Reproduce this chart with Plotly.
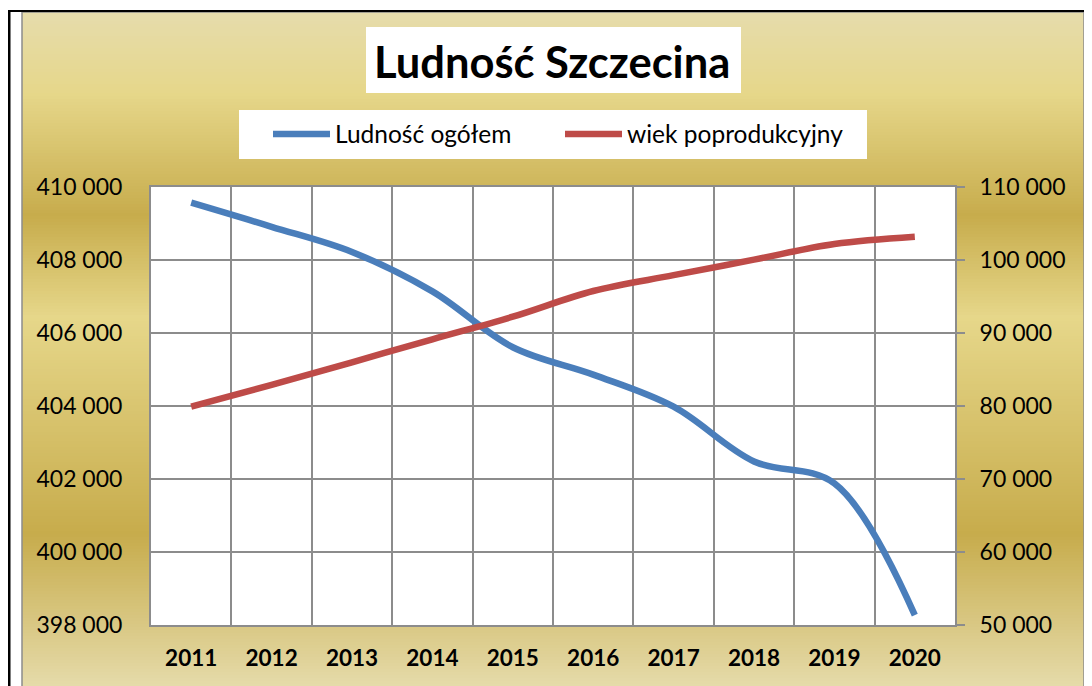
import plotly.graph_objects as go

# ---------------- data ----------------
years = ["2011", "2012", "2013", "2014", "2015", "2016", "2017", "2018", "2019", "2020"]
total_population = [409570, 408910, 408220, 407140, 405610, 404860, 403980, 402480, 401880, 398270]
post_working_age = [79900, 82880, 85990, 89140, 92230, 95750, 97920, 100050, 102190, 103190]
left_ticks = [398000, 400000, 402000, 404000, 406000, 408000, 410000]
right_ticks = [50000, 60000, 70000, 80000, 90000, 100000, 110000]
series_names = ["Ludność ogółem", "wiek poprodukcyjny"]
title_text = "Ludność Szczecina"

# ---------------- geometry helpers ----------------
OFF = 8  # the page body margin shifts the figure by 8 px
W, H = 1092 - OFF, 686 - OFF
PL, PR, PT, PB = 151, 955, 187, 625  # plot area in page pixels


def px(x):
    return (x - PL) / (PR - PL)


def py(y):
    return (PB - y) / (PB - PT)


def hex2rgb(h):
    h = h.lstrip("#")
    return tuple(int(h[i:i + 2], 16) for i in (0, 2, 4))


stops = [(0.0, "#E6DCAC"), (0.12, "#E6D78A"), (0.30, "#C7AC4C"),
         (0.45, "#E6D78A"), (0.77, "#C7AC4C"), (1.0, "#E6DCAC")]


def grad_color(t):
    for (t0, c0), (t1, c1) in zip(stops[:-1], stops[1:]):
        if t0 <= t <= t1:
            f = (t - t0) / (t1 - t0) if t1 > t0 else 0
            a, b = hex2rgb(c0), hex2rgb(c1)
            return "rgb(%d,%d,%d)" % tuple(round(a[i] + (b[i] - a[i]) * f) for i in range(3))
    return stops[-1][1]


shapes = []
# gold gradient panel
G_X0, G_X1, G_Y0, G_Y1 = 22, 1084, 12, 690
step = 3
y = G_Y0
while y < G_Y1:
    y1 = min(y + step, G_Y1)
    t = ((y + y1) / 2 - G_Y0) / (G_Y1 - G_Y0)
    shapes.append(dict(type="rect", xref="paper", yref="paper", layer="below",
                       x0=px(G_X0), x1=px(G_X1), y0=py(y), y1=py(y1 + 0.6),
                       fillcolor=grad_color(t), line=dict(width=0)))
    y = y1
# panel border
shapes.append(dict(type="rect", xref="paper", yref="paper", layer="below",
                   x0=px(G_X0), x1=px(G_X1), y0=py(G_Y0), y1=py(G_Y1 + 5),
                   line=dict(color="#8c8c8c", width=1.5)))
# black frame lines (outer sheet border)
shapes.append(dict(type="line", xref="paper", yref="paper", layer="below",
                   x0=px(9), x1=px(9), y0=py(10), y1=py(700),
                   line=dict(color="black", width=3)))
shapes.append(dict(type="line", xref="paper", yref="paper", layer="below",
                   x0=px(8), x1=px(1100), y0=py(11), y1=py(11),
                   line=dict(color="black", width=2)))
# white plot area
shapes.append(dict(type="rect", xref="paper", yref="paper", layer="below",
                   x0=0, x1=1, y0=0, y1=1, fillcolor="white", line=dict(width=0)))
# title box
shapes.append(dict(type="rect", xref="paper", yref="paper", layer="below",
                   x0=px(366), x1=px(741), y0=py(93), y1=py(27),
                   fillcolor="white", line=dict(width=0)))
# legend box
shapes.append(dict(type="rect", xref="paper", yref="paper", layer="below",
                   x0=px(239), x1=px(867), y0=py(159), y1=py(110),
                   fillcolor="white", line=dict(width=0)))

fig = go.Figure()
fig.add_trace(go.Scatter(x=years, y=total_population, name=series_names[0], mode="lines",
                         line=dict(color="#4A7EBB", width=6.5, shape="spline", smoothing=1.0),
                         yaxis="y"))
fig.add_trace(go.Scatter(x=years, y=post_working_age, name=series_names[1], mode="lines",
                         line=dict(color="#BE4B48", width=6.5, shape="spline", smoothing=1.0),
                         yaxis="y2"))

grid_col = "#8c8c8c"
fig.update_layout(
    width=W, height=H,
    margin=dict(l=PL - OFF, r=1092 - PR, t=PT - OFF, b=686 - PB, pad=0),
    paper_bgcolor="white",
    plot_bgcolor="white",
    separators=", ",
    font=dict(family="Lato", color="black", size=22),
    shapes=shapes,
    showlegend=True,
    legend=dict(orientation="h", x=px(268), y=py(134), xanchor="left", yanchor="middle",
                bgcolor="rgba(0,0,0,0)", font=dict(family="Lato", size=24.5, color="black"),
                itemwidth=57, entrywidth=220, entrywidthmode="pixels", traceorder="normal"),
    annotations=[dict(text=title_text, xref="paper", yref="paper",
                      x=px(552), y=py(61), xanchor="center", yanchor="middle",
                      showarrow=False,
                      font=dict(family="Lato", size=43.5, color="black", weight="bold"))],
    xaxis=dict(type="category", range=[-0.5, len(years) - 0.5], tickson="boundaries",
               showgrid=True, gridcolor=grid_col,
               gridwidth=2, ticks="", showline=True, linecolor=grid_col, linewidth=2,
               mirror=True, ticklabelstandoff=12,
               tickfont=dict(family="Lato", size=22.5, color="black", weight="bold"),
               zeroline=False, fixedrange=True),
    yaxis=dict(range=[left_ticks[0], left_ticks[-1]], tickvals=left_ticks, tickformat=",d",
               showgrid=True, gridcolor=grid_col, gridwidth=2, ticks="",
               showline=True, linecolor=grid_col, linewidth=2, mirror=True,
               ticklabelstandoff=22, zeroline=False,
               tickfont=dict(family="Lato", size=23, color="black")),
    yaxis2=dict(range=[right_ticks[0], right_ticks[-1]], tickvals=right_ticks, tickformat=",d",
                overlaying="y", side="right", showgrid=False, ticks="outside", ticklen=8,
                tickwidth=2, tickcolor=grid_col, showline=True, linecolor=grid_col, linewidth=2,
                ticklabelstandoff=10, zeroline=False,
                tickfont=dict(family="Lato", size=23, color="black")),
)

fig.write_html("out.html")
